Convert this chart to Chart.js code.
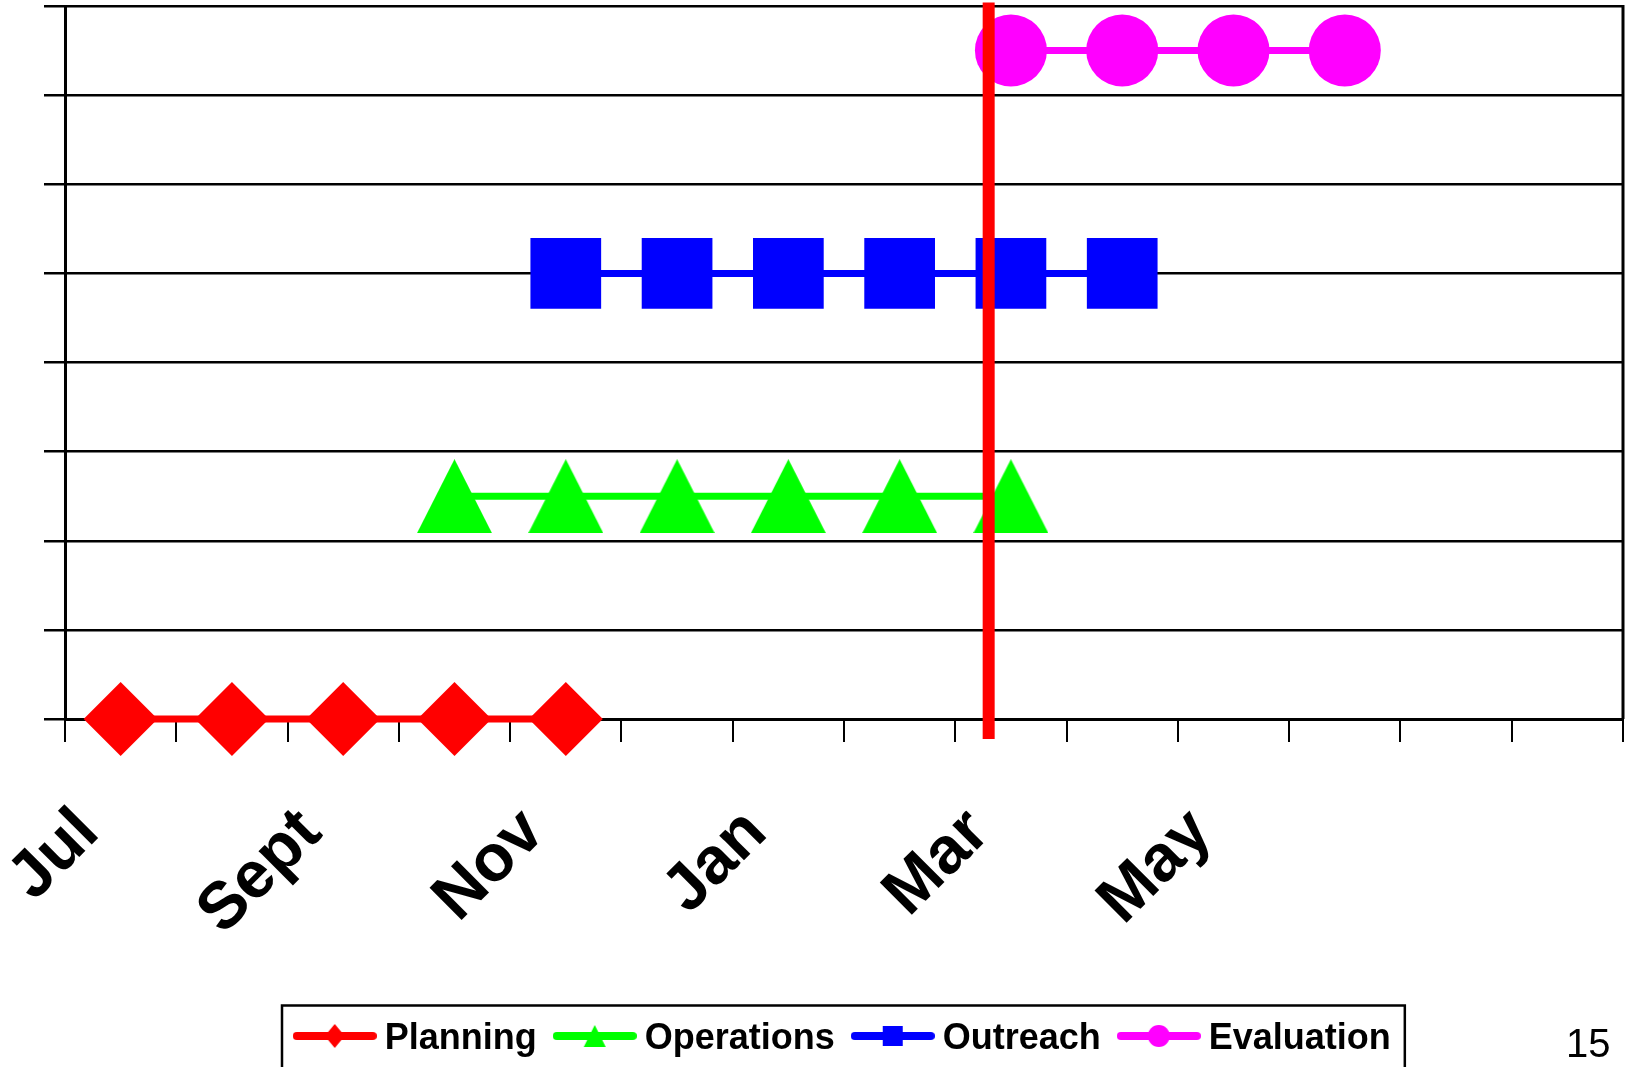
<!DOCTYPE html>
<html><head><meta charset="utf-8">
<script src="https://cdn.jsdelivr.net/npm/chart.js@4.4.1/dist/chart.umd.min.js"></script>
<style>html,body{margin:0;padding:0;background:#fff;}canvas{display:block;}</style>
</head><body>
<canvas id="c" width="1628" height="1067"></canvas>
<script>
// ---- data ----
const months = ['Jul','','Sept','','Nov','','Jan','','Mar','','May','','',''];
const planning   = [0,0,0,0,0,null,null,null,null,null,null,null,null,null];
const operations = [null,null,null,2.5,2.5,2.5,2.5,2.5,2.5,null,null,null,null,null];
const outreach   = [null,null,null,null,5,5,5,5,5,5,null,null,null,null];
const evaluation = [null,null,null,null,null,null,null,null,7.5,7.5,7.5,7.5,null,null];
const seriesNames = ['Planning','Operations','Outreach','Evaluation'];
const statusDate = 7.8;            // position of the "today" marker on the month index scale
const statusSpan = [-0.225, 8.04]; // vertical extent of the marker in y units
const slideNumber = '15';

// ---- styles ----
const FONT = "'Liberation Sans', Arial, Helvetica, sans-serif";
const RED = '#FF0000', GREEN = '#00FF00', BLUE = '#0000FF', MAGENTA = '#FF00FF';
const LEGEND_START = 302.7;

function makeTriangle(w, h, color) {
  const c = document.createElement('canvas');
  c.width = w; c.height = h;
  const g = c.getContext('2d');
  g.fillStyle = color;
  g.beginPath(); g.moveTo(w / 2, 0); g.lineTo(w, h); g.lineTo(0, h); g.closePath(); g.fill();
  return c;
}
function makeLegendIcon(color, shape) {
  const c = document.createElement('canvas');
  c.width = 84; c.height = 36;
  const g = c.getContext('2d');
  const cy = 15;
  g.strokeStyle = color; g.fillStyle = color; g.lineWidth = 8; g.lineCap = 'round';
  g.beginPath(); g.moveTo(4, cy); g.lineTo(80, cy); g.stroke();
  g.beginPath();
  if (shape === 'diamond') { g.moveTo(42, cy - 12); g.lineTo(52, cy); g.lineTo(42, cy + 12); g.lineTo(32, cy); g.closePath(); }
  else if (shape === 'triangle') { g.moveTo(42, cy - 11); g.lineTo(53, cy + 11); g.lineTo(31, cy + 11); g.closePath(); }
  else if (shape === 'square') { g.rect(32, cy - 10, 20, 20); }
  else { g.arc(42, cy, 11, 0, Math.PI * 2); }
  g.fill();
  return c;
}
const triangleMarker = makeTriangle(75, 74, GREEN);
const legendIcons = [
  makeLegendIcon(RED, 'diamond'),
  makeLegendIcon(GREEN, 'triangle'),
  makeLegendIcon(BLUE, 'square'),
  makeLegendIcon(MAGENTA, 'circle')
];

const decor = {
  id: 'decor',
  afterLayout(chart) {
    const lg = chart.legend;
    const pad = lg.options.labels.padding;
    const cur = (lg.left + pad + lg.right - lg.lineWidths[0]) / 2;
    const dx = LEGEND_START - cur;
    lg.left += dx; lg.right += dx;
  },
  afterDraw(chart) {
    const ctx = chart.ctx, a = chart.chartArea, lg = chart.legend;
    const pad = lg.options.labels.padding;
    ctx.save();
    // right border of plot area
    ctx.strokeStyle = '#000'; ctx.lineWidth = 3;
    ctx.beginPath(); ctx.moveTo(a.right, a.top - 1); ctx.lineTo(a.right, a.bottom); ctx.stroke();
    // legend frame
    const x0 = LEGEND_START - 20.7;
    const x1 = LEGEND_START + lg.lineWidths[0] - pad + 14;
    const y0 = lg.top + pad + 18 - 33.5;
    ctx.lineWidth = 2.5;
    ctx.strokeRect(x0, y0, x1 - x0, 80);
    // slide number
    ctx.fillStyle = '#000';
    ctx.font = '40px ' + FONT;
    ctx.textAlign = 'left'; ctx.textBaseline = 'alphabetic';
    ctx.fillText(slideNumber, 1566, 1057);
    ctx.restore();
  }
};

const common = { borderWidth: 7, pointBorderWidth: 0, tension: 0, spanGaps: false, clip: false };

new Chart(document.getElementById('c'), {
  type: 'line',
  data: {
    labels: months,
    datasets: [
      Object.assign({ label: seriesNames[0], data: planning, borderColor: RED, backgroundColor: RED,
        pointBackgroundColor: RED, pointStyle: 'rectRot', pointRadius: 37 }, common),
      Object.assign({ label: seriesNames[1], data: operations, borderColor: GREEN, backgroundColor: GREEN,
        pointBackgroundColor: GREEN, pointStyle: triangleMarker, pointRadius: 37 }, common),
      Object.assign({ label: seriesNames[2], data: outreach, borderColor: BLUE, backgroundColor: BLUE,
        pointBackgroundColor: BLUE, pointStyle: 'rect', pointRadius: 50 }, common),
      Object.assign({ label: seriesNames[3], data: evaluation, borderColor: MAGENTA, backgroundColor: MAGENTA,
        pointBackgroundColor: MAGENTA, pointStyle: 'circle', pointRadius: 36 }, common),
      { label: 'status', data: statusSpan.map(v => ({ x: statusDate, y: v })), xAxisID: 'xt',
        borderColor: RED, borderWidth: 12, borderCapStyle: 'butt', pointRadius: 0, clip: false, order: -1 }
    ]
  },
  options: {
    responsive: false,
    animation: false,
    events: [],
    layout: { autoPadding: false, padding: { top: 6, left: 44, right: 5, bottom: 0 } },
    scales: {
      x: {
        type: 'category', offset: true,
        grid: { offset: true, drawOnChartArea: false, color: '#000', lineWidth: 2, tickLength: 23 },
        border: { color: '#000', width: 3 },
        ticks: { autoSkip: false, minRotation: 45, maxRotation: 45, padding: 52, labelOffset: -32, color: '#000',
          font: { family: FONT, size: 66, weight: 'bold' } },
        afterFit(s) { s.height = 276; s.paddingLeft = 0; s.paddingRight = 0; }
      },
      xt: { type: 'linear', display: false, min: -0.5, max: 13.5 },
      y: {
        min: 0, max: 8,
        ticks: { display: false, stepSize: 1 },
        grid: { color: '#000', lineWidth: 2.5, tickLength: 21 },
        border: { color: '#000', width: 3 },
        afterFit(s) { s.width = 21; }
      }
    },
    plugins: {
      tooltip: { enabled: false },
      legend: {
        position: 'bottom',
        labels: {
          usePointStyle: true, pointStyleWidth: 64, padding: 26, color: '#000',
          font: { family: FONT, size: 36, weight: 'bold' },
          generateLabels(chart) {
            return Chart.defaults.plugins.legend.labels.generateLabels(chart)
              .map(it => Object.assign(it, { pointStyle: legendIcons[it.datasetIndex] }));
          },
          filter: it => it.datasetIndex < 4
        }
      }
    }
  },
  plugins: [decor]
});
</script>
</body></html>
